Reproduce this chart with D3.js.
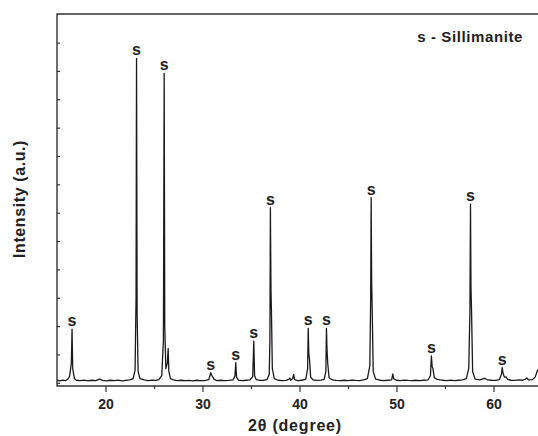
<!DOCTYPE html>
<html>
<head>
<meta charset="utf-8">
<script src="https://cdn.jsdelivr.net/npm/d3@7"></script>
<style>
  body { margin: 0; background: #fff; }
  svg { display: block; font-family: "Liberation Sans", Arial, sans-serif; }
</style>
</head>
<body>
<svg width="538" height="436"></svg>
<script>
// XRD pattern as [2theta, intensity] points
const trace = [
  [15.0, 90], [15.3, 70], [15.6, 95], [15.9, 80], [16.1, 120], [16.3, 230], [16.48, 700],
  [16.55, 1890], [16.62, 500], [16.8, 150], [17.0, 90], [17.4, 75], [17.8, 95], [18.2, 70],
  [18.6, 90], [19.0, 80], [19.4, 130], [19.7, 85], [20.1, 70], [20.5, 90], [20.9, 75],
  [21.3, 95], [21.7, 70], [22.1, 85], [22.5, 100], [22.85, 150], [23.05, 450], [23.15, 3000],
  [23.2, 11445], [23.26, 2500], [23.36, 400], [23.55, 150], [24.0, 100], [24.4, 80], [24.8, 95],
  [25.2, 85], [25.5, 110], [25.8, 250], [25.97, 1500], [26.05, 10916], [26.11, 2000],
  [26.22, 500], [26.38, 700], [26.46, 1217], [26.53, 400], [26.7, 150], [27.0, 100],
  [27.4, 80], [27.8, 90], [28.2, 75], [28.6, 85], [29.0, 70], [29.4, 90], [29.8, 80],
  [30.2, 75], [30.65, 110], [30.85, 356], [30.98, 250], [31.2, 120], [31.5, 80], [31.9, 90],
  [32.3, 75], [32.7, 85], [33.15, 100], [33.35, 250], [33.43, 709], [33.51, 200], [33.7, 95],
  [34.1, 80], [34.5, 90], [34.9, 100], [35.18, 220], [35.29, 1474], [35.37, 250], [35.55, 110],
  [35.9, 85], [36.3, 90], [36.65, 110], [36.88, 300], [36.95, 1500], [37.0, 6176], [37.06, 3273],
  [37.11, 2500], [37.2, 500], [37.4, 150], [37.8, 90], [38.2, 80], [38.6, 85], [38.9, 120],
  [39.0, 169], [39.1, 90], [39.3, 150], [39.4, 300], [39.5, 110], [39.8, 80], [40.2, 90],
  [40.65, 120], [40.84, 500], [40.9, 1922], [40.96, 1051], [41.04, 800], [41.15, 200], [41.4, 100],
  [41.8, 85], [42.2, 95], [42.55, 120], [42.72, 400], [42.78, 1922], [42.84, 1157], [42.91, 700],
  [43.05, 180], [43.4, 100], [43.8, 85], [44.2, 75], [44.6, 90], [45.0, 80], [45.4, 95],
  [45.8, 85], [46.2, 80], [46.6, 100], [47.0, 150], [47.25, 600], [47.34, 3000], [47.39, 6528],
  [47.44, 3566], [47.5, 2500], [47.6, 400], [47.85, 130], [48.3, 90], [48.7, 80], [49.1, 90],
  [49.5, 100], [49.62, 310], [49.72, 140], [50.0, 90], [50.4, 80], [50.8, 95], [51.2, 85],
  [51.6, 80], [52.0, 90], [52.4, 75], [52.8, 90], [53.25, 100], [53.5, 250], [53.6, 945],
  [53.68, 568], [53.76, 500], [53.9, 180], [54.2, 120], [54.5, 100], [54.8, 90], [55.2, 80],
  [55.6, 95], [56.0, 80], [56.4, 90], [56.8, 100], [57.2, 150], [57.45, 500], [57.57, 2500],
  [57.63, 6306], [57.68, 3343], [57.74, 2500], [57.85, 400], [58.1, 130], [58.6, 100], [58.9, 140],
  [59.1, 160], [59.4, 100], [59.8, 90], [60.2, 85], [60.6, 110], [60.82, 300], [60.9, 532],
  [60.98, 350], [61.12, 200], [61.3, 204], [61.45, 120], [61.8, 90], [62.2, 85], [62.6, 100],
  [63.0, 90], [63.3, 130], [63.45, 169], [63.6, 100], [64.0, 110], [64.3, 200], [64.55, 451],
  [64.7, 400],
];

// sillimanite reflections that get an "s" marker
const peakPos = [16.55, 23.2, 26.05, 30.85, 33.43, 35.29, 37.0, 40.9, 42.78, 47.39, 53.6, 57.63, 60.9];
const peakTop = [1890, 11445, 10916, 356, 709, 1474, 6176, 1922, 1922, 6528, 945, 6306, 532];

const xMajor = [20, 30, 40, 50, 60];
const xMinor = [25, 35, 45, 55];
const yTicks = d3.range(0, 13000, 1000);

const svg = d3.select('svg');
const width = +svg.attr('width');
const height = +svg.attr('height');
const margin = { left: 57, right: 0, top: 14, bottom: 50 };
const innerWidth = width - margin.left - margin.right;
const innerHeight = height - margin.top - margin.bottom;

const xScale = d3.scaleLinear().domain([15, 64.59]).range([0, innerWidth]);
const yScale = d3.scaleLinear().domain([-113, 13009]).range([innerHeight, 0]);

const g = svg.append('g').attr('transform', `translate(${margin.left}, ${margin.top})`);

g.append('clipPath').attr('id', 'plot')
  .append('rect').attr('width', innerWidth).attr('height', innerHeight);

// pattern
const line = d3.line().x((d) => xScale(d[0])).y((d) => yScale(d[1]));
g.append('path')
  .datum(trace)
  .attr('clip-path', 'url(#plot)')
  .attr('fill', 'none')
  .attr('stroke', '#1a1a1a')
  .attr('stroke-width', 1.3)
  .attr('stroke-linejoin', 'round')
  .attr('d', line);

// peak markers
g.selectAll('.mark')
  .data(peakPos)
  .enter()
  .append('text')
  .attr('class', 'mark')
  .attr('x', (d) => xScale(d))
  .attr('y', (d, i) => yScale(peakTop[i]) - 3)
  .attr('text-anchor', 'middle')
  .attr('font-size', 16)
  .attr('font-weight', 'bold')
  .attr('fill', '#222')
  .text('s');

// axes
const axisColor = '#333';
const xAxis = g.append('g')
  .attr('transform', `translate(0, ${innerHeight})`)
  .call(d3.axisBottom(xScale).tickValues(xMajor).tickSize(6).tickPadding(7).tickSizeOuter(0));
xAxis.select('.domain').remove();
xAxis.selectAll('text').attr('font-size', 14).attr('font-weight', 'bold').attr('fill', '#222')
  .attr('font-family', '"Liberation Sans", Arial, sans-serif');

const xMinorAxis = g.append('g')
  .attr('transform', `translate(0, ${innerHeight})`)
  .call(d3.axisBottom(xScale).tickValues(xMinor).tickSize(3).tickFormat(''));
xMinorAxis.select('.domain').remove();

const yAxis = g.append('g')
  .call(d3.axisLeft(yScale).tickValues(yTicks).tickSizeInner(-3).tickSizeOuter(0).tickFormat(''));
yAxis.select('.domain').remove();

g.selectAll('.tick line').attr('stroke', axisColor).attr('stroke-width', 1.2);

// frame: left, bottom, top
g.append('path')
  .attr('d', `M${innerWidth},0H0V${innerHeight}H${innerWidth}`)
  .attr('fill', 'none')
  .attr('stroke', axisColor)
  .attr('stroke-width', 1.4);

// legend
g.append('text')
  .attr('x', 466)
  .attr('y', 28)
  .attr('text-anchor', 'end')
  .attr('font-size', 15)
  .attr('font-weight', 'bold')
  .attr('letter-spacing', 0.6)
  .attr('fill', '#222')
  .text('s - Sillimanite');

// axis titles
svg.append('text')
  .attr('x', 295)
  .attr('y', 431)
  .attr('text-anchor', 'middle')
  .attr('font-size', 16)
  .attr('font-weight', 'bold')
  .attr('letter-spacing', 0.8)
  .attr('fill', '#222')
  .text('2θ (degree)');

svg.append('text')
  .attr('transform', 'translate(25, 199) rotate(-90)')
  .attr('text-anchor', 'middle')
  .attr('font-size', 16)
  .attr('font-weight', 'bold')
  .attr('letter-spacing', 0.6)
  .attr('fill', '#222')
  .text('Intensity (a.u.)');
</script>
</body>
</html>
